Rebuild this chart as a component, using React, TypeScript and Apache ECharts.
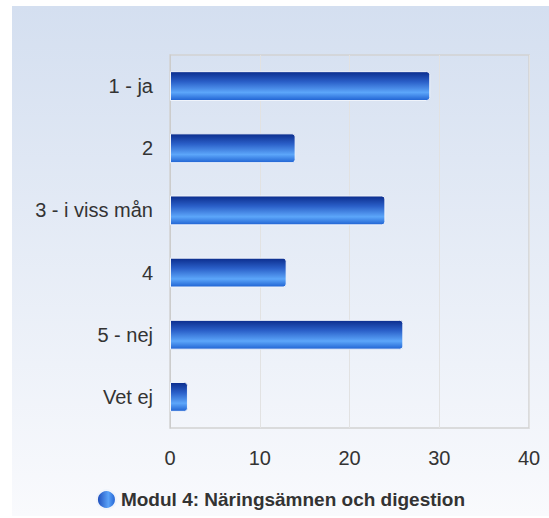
import React, { useEffect, useRef } from "react";
import * as echarts from "echarts";

const categories = ["1 - ja", "2", "3 - i viss mån", "4", "5 - nej", "Vet ej"];
const values = [29, 14, 24, 13, 26, 2];
const seriesName = "Modul 4: Näringsämnen och digestion";

export default function App() {
  const ref = useRef<HTMLDivElement>(null);
  useEffect(() => {
    if (!ref.current) return;
    const chart = echarts.init(ref.current, undefined, { renderer: "svg" });
    const barGrad = new echarts.graphic.LinearGradient(0, 0, 0, 1, [
      { offset: 0, color: "#0b2c8c" },
      { offset: 0.35, color: "#2a5fc8" },
      { offset: 0.72, color: "#5ca6fa" },
      { offset: 1, color: "#1f62d2" },
    ]);
    const iconGrad = new echarts.graphic.LinearGradient(0, 0, 1, 0, [
      { offset: 0, color: "#1a48b8" },
      { offset: 0.6, color: "#5aa2f8" },
      { offset: 1, color: "#1f5ed0" },
    ]);
    chart.setOption({
      animation: false,
      backgroundColor: new echarts.graphic.LinearGradient(0, 0, 0, 1, [
        { offset: 0, color: "#d4dff0" },
        { offset: 1, color: "#f9fafd" },
      ]),
      textStyle: { fontFamily: "Liberation Sans, Arial, sans-serif" },
      grid: { left: 158, right: 20, top: 49, bottom: 88, containLabel: false },
      xAxis: {
        type: "value",
        min: 0,
        max: 40,
        interval: 10,
        axisLine: { show: false },
        axisTick: { show: false },
        axisLabel: { color: "#333", fontSize: 20, margin: 20 },
        splitLine: { show: true, lineStyle: { color: "#e2e2e2", width: 1 } },
      },
      yAxis: {
        type: "category",
        data: categories,
        inverse: true,
        axisLine: { show: true, lineStyle: { color: "#cccccc", width: 1 } },
        axisTick: { show: false },
        axisLabel: { color: "#333", fontSize: 20, margin: 17 },
        splitLine: { show: false },
      },
      legend: {
        bottom: 1,
        left: "center",
        itemWidth: 19,
        itemHeight: 19,
        itemGap: 6,
        icon: "circle",
        textStyle: { color: "#333", fontSize: 19, fontWeight: "bold" },
        data: [{ name: seriesName, itemStyle: { color: iconGrad } }],
      },
      graphic: [
        {
          type: "rect",
          shape: { x: 158, y: 49, width: 359, height: 373 },
          style: { fill: "none", stroke: "#d2d2d2", lineWidth: 1.5 },
          silent: true,
          z: 0,
        },
      ],
      series: [
        {
          name: seriesName,
          type: "bar",
          data: values,
          barWidth: "48%",
          itemStyle: {
            color: barGrad,
            borderColor: "#f0f4fb",
            borderWidth: 1,
            borderRadius: [0, 3, 3, 0],
          },
        },
      ],
    });
    return () => chart.dispose();
  }, []);
  return (
    <div style={{ position: "absolute", left: 0, top: 0, width: 549, height: 518, background: "#fff" }}>
      <div ref={ref} style={{ position: "absolute", left: 12, top: 6, width: 537, height: 510 }} />
    </div>
  );
}
